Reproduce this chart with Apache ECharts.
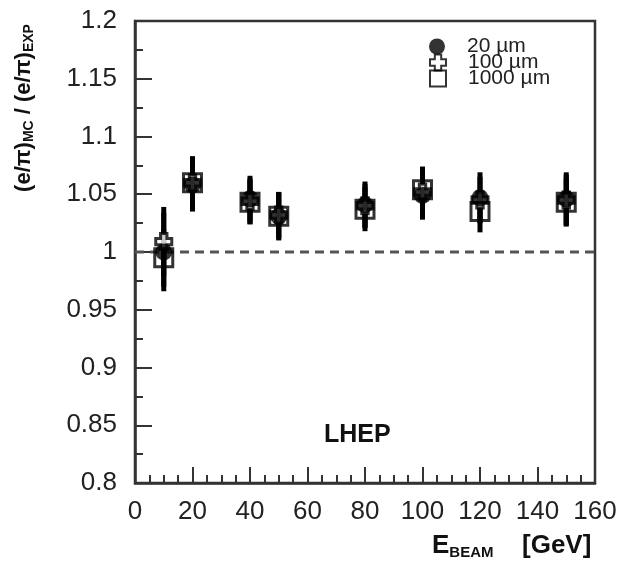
<!DOCTYPE html>
<html>
<head>
<meta charset="utf-8">
<script src="https://cdn.jsdelivr.net/npm/echarts@6/dist/echarts.min.js"></script>
<style>html,body{margin:0;padding:0;background:#fff}#c{width:625px;height:563px}</style>
</head>
<body>
<div id="c"></div>
<script>
const energies = [10, 20, 40, 50, 80, 100, 120, 150];
const ratio20 = [1.000, 1.058, 1.046, 1.031, 1.041, 1.049, 1.047, 1.046];
const ratio100 = [1.009, 1.060, 1.044, 1.032, 1.040, 1.052, 1.045, 1.045];
const ratio1000 = [0.995, 1.060, 1.043, 1.031, 1.037, 1.054, 1.035, 1.043];
const err20 = [0.034, 0.023, 0.020, 0.021, 0.020, 0.021, 0.022, 0.023];
const err100 = [0.030, 0.023, 0.020, 0.020, 0.019, 0.020, 0.020, 0.022];
const err1000 = [0.025, 0.022, 0.019, 0.020, 0.019, 0.020, 0.018, 0.021];
const seriesNames = ['20 µm', '100 µm', '1000 µm'];
const xTicks = [0, 20, 40, 60, 80, 100, 120, 140, 160];
const yTicks = [0.8, 0.85, 0.9, 0.95, 1, 1.05, 1.1, 1.15, 1.2];

const pts = (vals) => energies.map((e, i) => [e, vals[i]]);
const errPts = (vals, errs) => energies.map((e, i) => [e, vals[i] - errs[i], vals[i] + errs[i]]);

function errRender(params, api) {
  const x = api.value(0);
  const p1 = api.coord([x, api.value(1)]);
  const p2 = api.coord([x, api.value(2)]);
  return {type: 'line', shape: {x1: p1[0], y1: p1[1], x2: p2[0], y2: p2[1]},
          style: {stroke: '#000', lineWidth: 5}};
}

const crossPath = 'path://M3,0 H7 V3 H10 V7 H7 V10 H3 V7 H0 V3 H3 Z';
const font = 'Liberation Sans, Arial, sans-serif';
const legendTops = [36, 52, 68];

const chart = echarts.init(document.getElementById('c'), null, {renderer: 'canvas'});
chart.setOption({
  animation: false,
  backgroundColor: '#fff',
  grid: {left: 135, top: 21, right: 30, bottom: 80, show: true, borderColor: '#333', borderWidth: 2.5},
  xAxis: {
    type: 'value', min: xTicks[0], max: xTicks[xTicks.length - 1], interval: 20,
    axisLine: {show: true, onZero: false, lineStyle: {color: '#333', width: 2.5}},
    axisTick: {show: true, inside: true, length: 16, lineStyle: {color: '#333', width: 2}},
    minorTick: {show: true, splitNumber: 4, length: 8, lineStyle: {color: '#333', width: 2}},
    splitLine: {show: false},
    axisLabel: {fontSize: 26, color: '#222', fontFamily: font, margin: 16, hideOverlap: false}
  },
  yAxis: {
    type: 'value', min: yTicks[0], max: yTicks[yTicks.length - 1], interval: 0.05,
    axisLine: {show: true, onZero: false, lineStyle: {color: '#333', width: 2.5}},
    axisTick: {show: true, inside: true, length: 17, lineStyle: {color: '#333', width: 2}},
    minorTick: {show: true, splitNumber: 2, length: 8, lineStyle: {color: '#333', width: 2}},
    splitLine: {show: false},
    axisLabel: {fontSize: 26, color: '#222', fontFamily: font, margin: 18,
                formatter: v => String(+v.toFixed(2))}
  },
  legend: seriesNames.map((n, i) => ({
    left: 429, top: legendTops[i], itemWidth: 16, itemHeight: 16, padding: 0,
    data: [n], selectedMode: false,
    textStyle: {fontSize: 21, color: '#222', fontFamily: font, padding: [0, 0, 0, 17]}
  })),
  graphic: [
    {type: 'text', left: 324, top: 423,
     style: {text: 'LHEP', font: 'bold 25px ' + font, fill: '#111'}},
    {type: 'text', x: 24, y: 108, rotation: Math.PI / 2,
     style: {text: '(e/π){s|MC} / (e/π){s|EXP}', x: 0, y: 0, align: 'center', verticalAlign: 'middle',
             font: 'bold 22px ' + font, fill: '#111',
             rich: {s: {fontSize: 14, fontWeight: 'bold', fontFamily: font, verticalAlign: 'bottom', padding: [11, 0, 0, 0]}}}},
    {type: 'text', left: 432, top: 533,
     style: {text: 'E{s|BEAM}', font: 'bold 26px ' + font, fill: '#111',
             rich: {s: {fontSize: 15, fontWeight: 'bold', fontFamily: font, verticalAlign: 'bottom', padding: [14, 0, 0, 0]}}}},
    {type: 'text', left: 522, top: 533,
     style: {text: '[GeV]', font: 'bold 26px ' + font, fill: '#111'}}
  ],
  series: [
    {type: 'line', data: [[xTicks[0], 1], [xTicks[xTicks.length - 1], 1]], symbol: 'none', silent: true,
     lineStyle: {color: '#555', width: 3, type: [9, 6]}, legendHoverLink: false, z: 1},
    {type: 'custom', renderItem: errRender, data: errPts(ratio20, err20), z: 2},
    {type: 'custom', renderItem: errRender, data: errPts(ratio100, err100), z: 2},
    {type: 'custom', renderItem: errRender, data: errPts(ratio1000, err1000), z: 2},
    {name: seriesNames[1], type: 'scatter', data: pts(ratio100), symbol: crossPath, symbolSize: 16,
     itemStyle: {color: '#fff', borderColor: '#000', borderWidth: 3}, z: 3},
    {name: seriesNames[2], type: 'scatter', data: pts(ratio1000), symbol: 'rect', symbolSize: 18,
     itemStyle: {color: 'rgba(255,255,255,0)', borderColor: '#000', borderWidth: 3}, z: 4},
    {name: seriesNames[0], type: 'scatter', data: pts(ratio20), symbol: 'circle', symbolSize: 17,
     itemStyle: {color: '#000'}, z: 5}
  ]
});
</script>
</body>
</html>
